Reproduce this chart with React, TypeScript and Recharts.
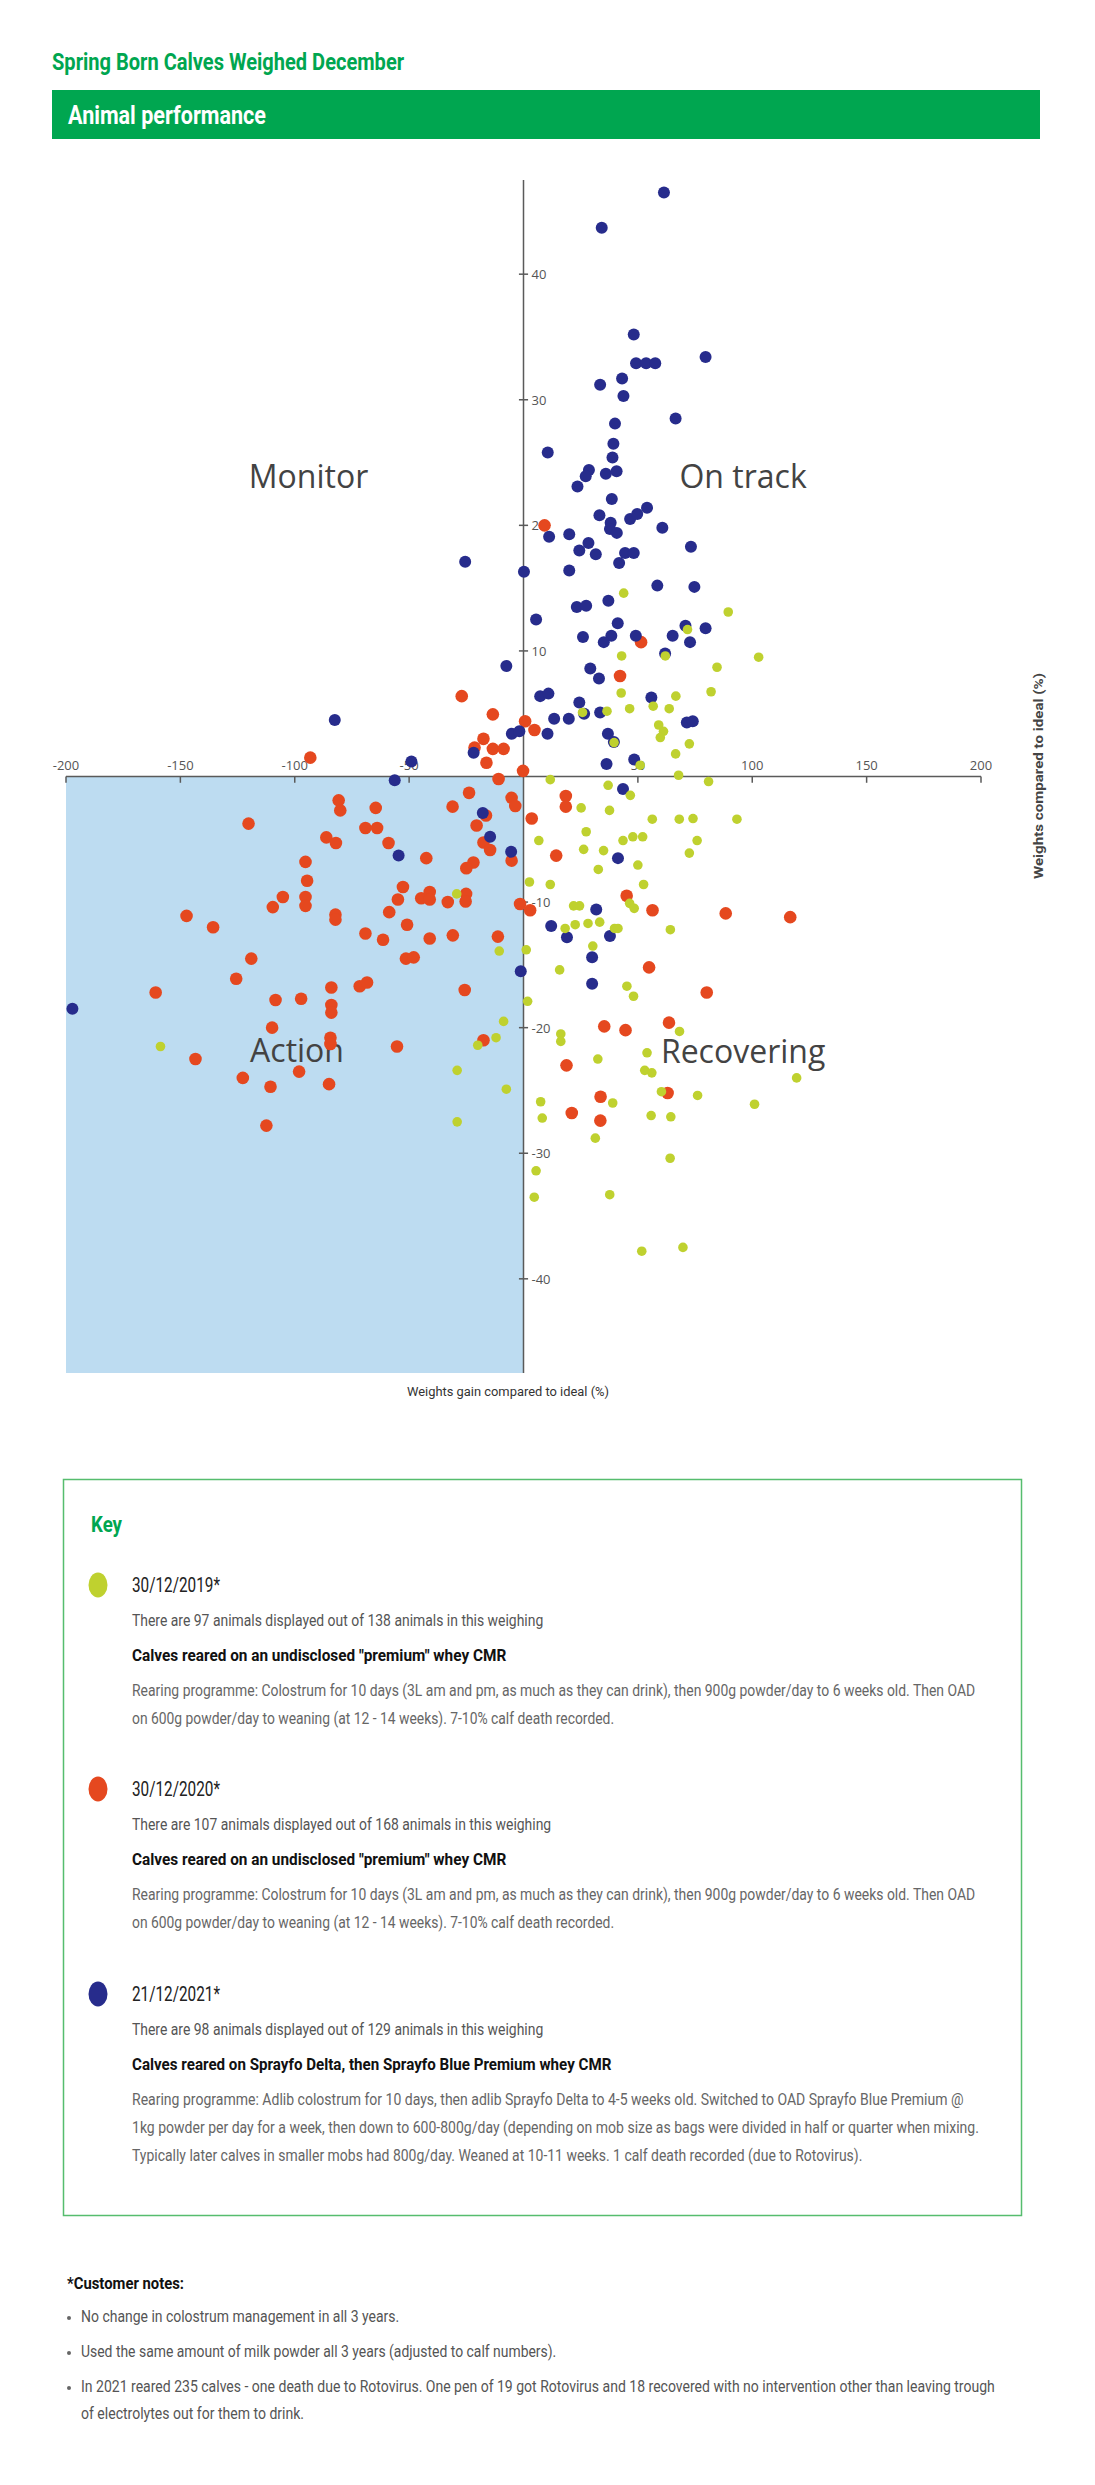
import { useLayoutEffect, useRef, useState } from "react";
import {
  ScatterChart,
  Scatter,
  XAxis,
  YAxis,
  ReferenceLine,
  ReferenceArea,
  ReferenceDot,
} from "recharts";

const TXT = 'Roboto, "Liberation Sans", sans-serif';
const SANS = '"Open Sans", "Noto Sans", sans-serif';

const GREEN = "#00a650";
const C2019 = "#bfd12f";
const C2020 = "#e5481f";
const C2021 = "#272c8c";
const AXIS = "#5a5a5a";

// [weight gain vs ideal (%), weight vs ideal (%)]
const calves2019 = [
  [43.8, 14.6], [89.5, 13.1], [71.7, 11.7], [42.9, 9.6], [62, 9.6], [102.8, 9.5], [84.6, 8.7], [82, 6.75],
  [66.6, 6.4], [42.7, 6.65], [25.8, 5.1], [36.5, 5.2], [46.4, 5.4], [56.7, 5.6], [63.7, 5.4], [59.1, 4.1],
  [61.2, 3.6], [59.8, 3.1], [72.5, 2.6], [66.5, 1.8], [39.6, 2.7], [51, 0.9], [67.8, 0.1],
  [11.7, -0.25], [37, -0.7], [80.9, -0.4], [46.7, -1.5], [25.2, -2.5], [37.6, -2.7], [56.3, -3.4], [68.1, -3.4],
  [74.1, -3.35], [93.3, -3.4], [27.4, -4.4], [6.7, -5.1], [43.5, -5.1], [47.8, -4.8], [52.1, -4.8], [75.9, -5.1],
  [26.3, -5.8], [35, -5.9], [72.5, -6.1], [32.7, -7.4], [50, -7.05], [2.6, -8.4], [11.7, -8.6], [52.5, -8.6],
  [-29.2, -9.35], [21.9, -10.3], [24.5, -10.3], [46.4, -10.1], [48.4, -10.5], [18.2, -12.1], [22.6, -11.8],
  [28.2, -11.7], [33.3, -11.6], [39.8, -12.1], [41.3, -12.1], [64.2, -12.2], [30.3, -13.5], [1.2, -13.8],
  [-10.6, -13.9], [15.8, -15.4], [45.2, -16.7], [48.1, -17.5], [1.8, -17.9], [-8.7, -19.5], [-12, -20.8],
  [-20, -21.4], [16.3, -20.5], [16.3, -21.1], [68.2, -20.3], [32.5, -22.5], [54, -22], [53, -23.4], [56.1, -23.6],
  [119.4, -24], [-29, -23.4], [-7.5, -24.9], [60.3, -25.1], [76.1, -25.4], [101, -26.1], [7.5, -25.9],
  [8.2, -27.2], [39, -26], [55.8, -27], [64.4, -27.1], [-29, -27.5], [31.4, -28.8], [64.1, -30.4], [5.5, -31.4],
  [4.7, -33.5], [37.7, -33.3], [51.7, -37.8], [69.7, -37.5], [-158.7, -21.5],
];

const calves2020 = [
  [9.2, 20], [51.4, 10.7], [42.2, 8], [-27, 6.4], [-13.4, 4.95], [-93.2, 1.5], [-17.5, 3], [-21.4, 2.3],
  [-13.4, 2.2], [-8.7, 2.2], [-16.2, 1.1], [-0.2, 0.45], [0.7, 4.4], [4.8, 3.7],
  [-10.9, -0.2], [-23.8, -1.3], [-31, -2.4], [-5.2, -1.7], [-3.6, -2.35], [-16.4, -3.1], [-20.5, -3.9],
  [3.6, -3.35], [18.5, -1.55], [18.5, -2.4], [-17.5, -5.25], [-14.6, -5.85], [-5.2, -6.7], [14.3, -6.3],
  [-21.9, -6.85], [-25, -7.3], [-42.5, -6.5], [-33.1, -10], [-25.1, -9.35], [-25.3, -9.95], [-1.5, -10.15],
  [2.9, -10.65], [45.1, -9.5], [56.4, -10.65], [88.4, -10.9], [116.6, -11.2], [-30.9, -12.65], [-11.2, -12.75],
  [54.9, -15.2], [80.1, -17.2],
  [-80.8, -1.9], [-80.1, -2.7], [-64.6, -2.5], [-120.2, -3.75], [-69.1, -4.1], [-64, -4.1], [-86.2, -4.85],
  [-82, -5.3], [-59, -5.3], [-95.3, -6.8], [-94.6, -8.3], [-105.2, -9.6], [-109.6, -10.4], [-95.3, -9.6],
  [-95.3, -10.3], [-52.7, -8.8], [-54.9, -9.8], [-58.7, -10.8], [-44.7, -9.7], [-41, -9.2], [-41, -9.8],
  [-147.3, -11.1], [-135.7, -12], [-82.2, -11], [-82.2, -11.4], [-69.1, -12.5], [-61.4, -13], [-50.9, -11.8],
  [-41, -12.9], [-119, -14.5], [-51.4, -14.5], [-48, -14.4], [-125.6, -16.1], [-160.8, -17.2], [-84, -16.8],
  [-71.6, -16.7], [-68.4, -16.4], [-25.7, -17], [-108.4, -17.8], [-97.2, -17.7], [-84, -18.2], [-84, -18.8],
  [-109.9, -20], [-84.4, -20.8], [-84.4, -21.3], [-55.3, -21.5], [-17.5, -21], [-143.4, -22.5], [-98.1, -23.5],
  [-122.7, -24], [-110.6, -24.7], [-85, -24.5], [-112.4, -27.8],
  [35.3, -19.9], [44.6, -20.2], [63.6, -19.6], [18.8, -23], [63, -25.2], [33.7, -25.5], [33.6, -27.4], [21.1, -26.8],
];

const calves2021 = [
  [61.4, 46.5], [34.2, 43.7], [48.2, 35.2], [49.2, 32.9], [53.6, 32.9], [57.6, 32.9], [79.6, 33.4], [33.5, 31.2],
  [43.1, 31.7], [43.7, 30.3], [66.5, 28.5], [40, 28.1], [39.3, 26.5], [38.9, 25.4], [10.6, 25.8], [28.6, 24.4],
  [27.2, 23.9], [36, 24.1], [40.7, 24.3], [23.6, 23.1], [38.6, 22.1], [33.2, 20.8], [46.6, 20.5], [49.7, 20.9],
  [54, 21.4], [38.1, 20.2], [37.8, 19.7], [40.8, 19.4], [60.7, 19.8], [11.2, 19.1], [20, 19.3], [24.4, 18],
  [28.4, 18.6], [31.6, 17.7], [41.8, 17], [44.4, 17.8], [48.2, 17.8], [73.2, 18.3], [-25.5, 17.1], [0.2, 16.3],
  [20, 16.4], [58.5, 15.2], [74.7, 15.1], [23.3, 13.5], [27.4, 13.6], [37.1, 14], [5.5, 12.5], [41.2, 12.2],
  [38.4, 11.2], [35.1, 10.7], [26, 11.1], [49.1, 11.2], [65.2, 11.2], [70.8, 12], [79.6, 11.8], [72.8, 10.7],
  [61.9, 9.8], [-7.5, 8.8], [29.2, 8.6], [33, 7.8], [7.3, 6.4], [10.9, 6.6], [24.4, 5.9], [26.5, 5],
  [33.5, 5.1], [55.9, 6.3], [13.4, 4.6], [19.8, 4.6], [-5.1, 3.4], [-1.8, 3.6], [10.5, 3.4], [36.9, 3.4],
  [39.5, 2.75], [71.4, 4.3], [74, 4.4], [36.3, 1], [48.4, 1.35], [-82.5, 4.5], [-49, 1.2], [-21.8, 1.9],
  [-56.3, -0.3], [43.5, -1], [-17.8, -2.9], [-14.6, -4.8], [-5.4, -6], [41.3, -6.5], [-54.6, -6.3],
  [31.8, -10.6], [12.1, -11.9], [19, -12.8], [37.8, -12.7], [30, -14.4], [-1.2, -15.5], [30, -16.5],
  [-197.2, -18.5],
];

const xTicks = [-200, -150, -100, -50, 50, 100, 150, 200];
const yTicks = [-40, -30, -20, -10, 10, 20, 30, 40];

const quadrants = [
  { name: "Monitor", x: -94, y: 24 },
  { name: "On track", x: 96, y: 24 },
  { name: "Action", x: -99, y: -21.7 },
  { name: "Recovering", x: 96, y: -21.8 },
];

const entries = [
  {
    date: "30/12/2019*",
    color: C2019,
    count: "There are 97 animals displayed out of 138 animals in this weighing",
    countW: 411,
    title: 'Calves reared on an undisclosed "premium" whey CMR',
    titleW: 374,
    lines: [
      "Rearing programme: Colostrum for 10 days (3L am and pm, as much as they can drink), then 900g powder/day to 6 weeks old. Then OAD",
      "on 600g powder/day to weaning (at 12 - 14 weeks). 7-10% calf death recorded.",
    ],
    lineW: [843, 482],
  },
  {
    date: "30/12/2020*",
    color: C2020,
    count: "There are 107 animals displayed out of 168 animals in this weighing",
    countW: 419,
    title: 'Calves reared on an undisclosed "premium" whey CMR',
    titleW: 374,
    lines: [
      "Rearing programme: Colostrum for 10 days (3L am and pm, as much as they can drink), then 900g powder/day to 6 weeks old. Then OAD",
      "on 600g powder/day to weaning (at 12 - 14 weeks). 7-10% calf death recorded.",
    ],
    lineW: [843, 482],
  },
  {
    date: "21/12/2021*",
    color: C2021,
    count: "There are 98 animals displayed out of 129 animals in this weighing",
    countW: 411,
    title: "Calves reared on Sprayfo Delta, then Sprayfo Blue Premium whey CMR",
    titleW: 479,
    lines: [
      "Rearing programme: Adlib colostrum for 10 days, then adlib Sprayfo Delta to 4-5 weeks old. Switched to OAD Sprayfo Blue Premium @",
      "1kg powder per day for a week, then down to 600-800g/day (depending on mob size as bags were divided in half or quarter when mixing.",
      "Typically later calves in smaller mobs had 800g/day. Weaned at 10-11 weeks. 1 calf death recorded (due to Rotovirus).",
    ],
    lineW: [831, 846, 730],
  },
];

const entryTops = [1585, 1789, 1994];

const notes = [
  { lines: ["No change in colostrum management in all 3 years."], w: [318] },
  { lines: ["Used the same amount of milk powder all 3 years (adjusted to calf numbers)."], w: [475] },
  {
    lines: [
      "In 2021 reared 235 calves - one death due to Rotovirus. One pen of 19 got Rotovirus and 18 recovered with no intervention other than leaving trough",
      "of electrolytes out for them to drink.",
    ],
    w: [913, 223],
  },
];

const toPoints = (arr: number[][]) => arr.map(([x, y]) => ({ x, y }));

// condensed text: measured, then squeezed horizontally to the width it has in the page
function ST(props: { x: number; y: number; w: number; size: number; color?: string; bold?: boolean; children: any }) {
  const ref = useRef<SVGTextElement>(null);
  const [k, setK] = useState(0.8);
  useLayoutEffect(() => {
    const n = ref.current ? ref.current.getComputedTextLength() : 0;
    if (n > 0) setK(props.w / n);
  }, [props.w, props.children]);
  return (
    <text
      ref={ref}
      transform={`translate(${props.x} ${props.y}) scale(${k} 1)`}
      fontSize={props.size}
      fontFamily={TXT}
      fontWeight={props.bold ? 700 : 400}
      fill={props.color || "#333"}
      dominantBaseline="central"
    >
      {props.children}
    </text>
  );
}

const dot = (r: number, fill: string) => (p: any) => <circle cx={p.cx} cy={p.cy} r={r} fill={fill} />;

export default function App() {
  return (
    <div style={{ position: "absolute", left: 0, top: 0, width: 1095, height: 2485, background: "#fff" }}>
      <svg style={{ position: "absolute", left: 0, top: 0 }} width={1095} height={2485}>
        <ST x={52} y={61} w={352} size={24} color={GREEN} bold>
          Spring Born Calves Weighed December
        </ST>
        <rect x={52} y={90} width={988} height={49} fill={GREEN} />
        <ST x={68} y={115} w={198} size={25} color="#fff" bold>
          Animal performance
        </ST>

        <ST x={407} y={1391} w={202} size={13} color="#333">
          Weights gain compared to ideal (%)
        </ST>
        <g transform="translate(1038 776) rotate(-90)">
          <ST x={-103} y={0} w={206} size={13} color="#444" bold>
            Weights compared to ideal (%)
          </ST>
        </g>

        <rect x={63.5} y={1479.5} width={958} height={736} fill="none" stroke="#56bd6e" strokeWidth={1.5} />
        <ST x={91} y={1524} w={31} size={22} color={GREEN} bold>
          Key
        </ST>
        {entries.map((e, i) => {
          const top = entryTops[i];
          return (
            <g key={e.date}>
              <ellipse cx={98} cy={top} rx={9.5} ry={12.5} fill={e.color} />
              <ST x={132} y={top} w={88} size={21} color="#222">
                {e.date}
              </ST>
              <ST x={132} y={top + 36} w={e.countW} size={17} color="#555">
                {e.count}
              </ST>
              <ST x={132} y={top + 70} w={e.titleW} size={17} color="#111" bold>
                {e.title}
              </ST>
              {e.lines.map((l, j) => (
                <ST key={j} x={132} y={top + 106 + j * 28} w={e.lineW[j]} size={17} color="#666">
                  {l}
                </ST>
              ))}
            </g>
          );
        })}

        <ST x={67} y={2283} w={117} size={17} color="#111" bold>
          *Customer notes:
        </ST>
        {notes.map((n, i) => (
          <g key={i}>
            <circle cx={69} cy={2318 + i * 35} r={2} fill="#666" />
            {n.lines.map((l, j) => (
              <ST key={j} x={81} y={2317 + i * 35 + j * 27} w={n.w[j]} size={17} color="#555">
                {l}
              </ST>
            ))}
          </g>
        ))}
      </svg>

      <div style={{ position: "absolute", left: 0, top: 170 }}>
        <ScatterChart width={1095} height={1215} margin={{ top: 10, right: 114, bottom: 12, left: 66 }}>
          <XAxis type="number" dataKey="x" domain={[-200, 200]} hide />
          <YAxis type="number" dataKey="y" domain={[-47.5, 47.5]} hide />
          <ReferenceArea x1={-200} x2={0} y1={-47.5} y2={0} fill="#bddcf1" fillOpacity={1} stroke="none" />
          {quadrants.map((q) => (
            <ReferenceDot
              key={q.name}
              x={q.x}
              y={q.y}
              r={1}
              shape={(p: any) => (
                <text x={p.cx} y={p.cy} textAnchor="middle" dominantBaseline="central" fontSize={32} fontFamily={SANS} fill="#434343">
                  {q.name}
                </text>
              )}
            />
          ))}
          <ReferenceLine y={0} stroke={AXIS} strokeWidth={1.5} />
          <ReferenceLine x={0} stroke={AXIS} strokeWidth={1.5} />
          {xTicks.map((t) => (
            <ReferenceLine key={"xt" + t} segment={[{ x: t, y: 0 }, { x: t, y: -0.5 }]} stroke={AXIS} strokeWidth={1.5} />
          ))}
          {yTicks.map((t) => (
            <ReferenceLine key={"yt" + t} segment={[{ x: -2, y: t }, { x: 2, y: t }]} stroke={AXIS} strokeWidth={1.5} />
          ))}
          {xTicks.map((t) => (
            <ReferenceDot
              key={"xl" + t}
              x={t}
              y={0}
              r={1}
              shape={(p: any) => (
                <text x={p.cx} y={p.cy - 7} textAnchor="middle" fontSize={13} fontFamily={SANS} fill="#555">
                  {t}
                </text>
              )}
            />
          ))}
          {yTicks.map((t) => (
            <ReferenceDot
              key={"yl" + t}
              x={0}
              y={t}
              r={1}
              shape={(p: any) => (
                <text x={p.cx + 8} y={p.cy} dominantBaseline="central" fontSize={13} fontFamily={SANS} fill="#555">
                  {t}
                </text>
              )}
            />
          ))}
          <Scatter name="30/12/2020" data={toPoints(calves2020)} isAnimationActive={false} shape={dot(6.3, C2020)} />
          <Scatter name="21/12/2021" data={toPoints(calves2021)} isAnimationActive={false} shape={dot(6, C2021)} />
          <Scatter name="30/12/2019" data={toPoints(calves2019)} isAnimationActive={false} shape={dot(4.8, C2019)} />
        </ScatterChart>
      </div>
    </div>
  );
}
